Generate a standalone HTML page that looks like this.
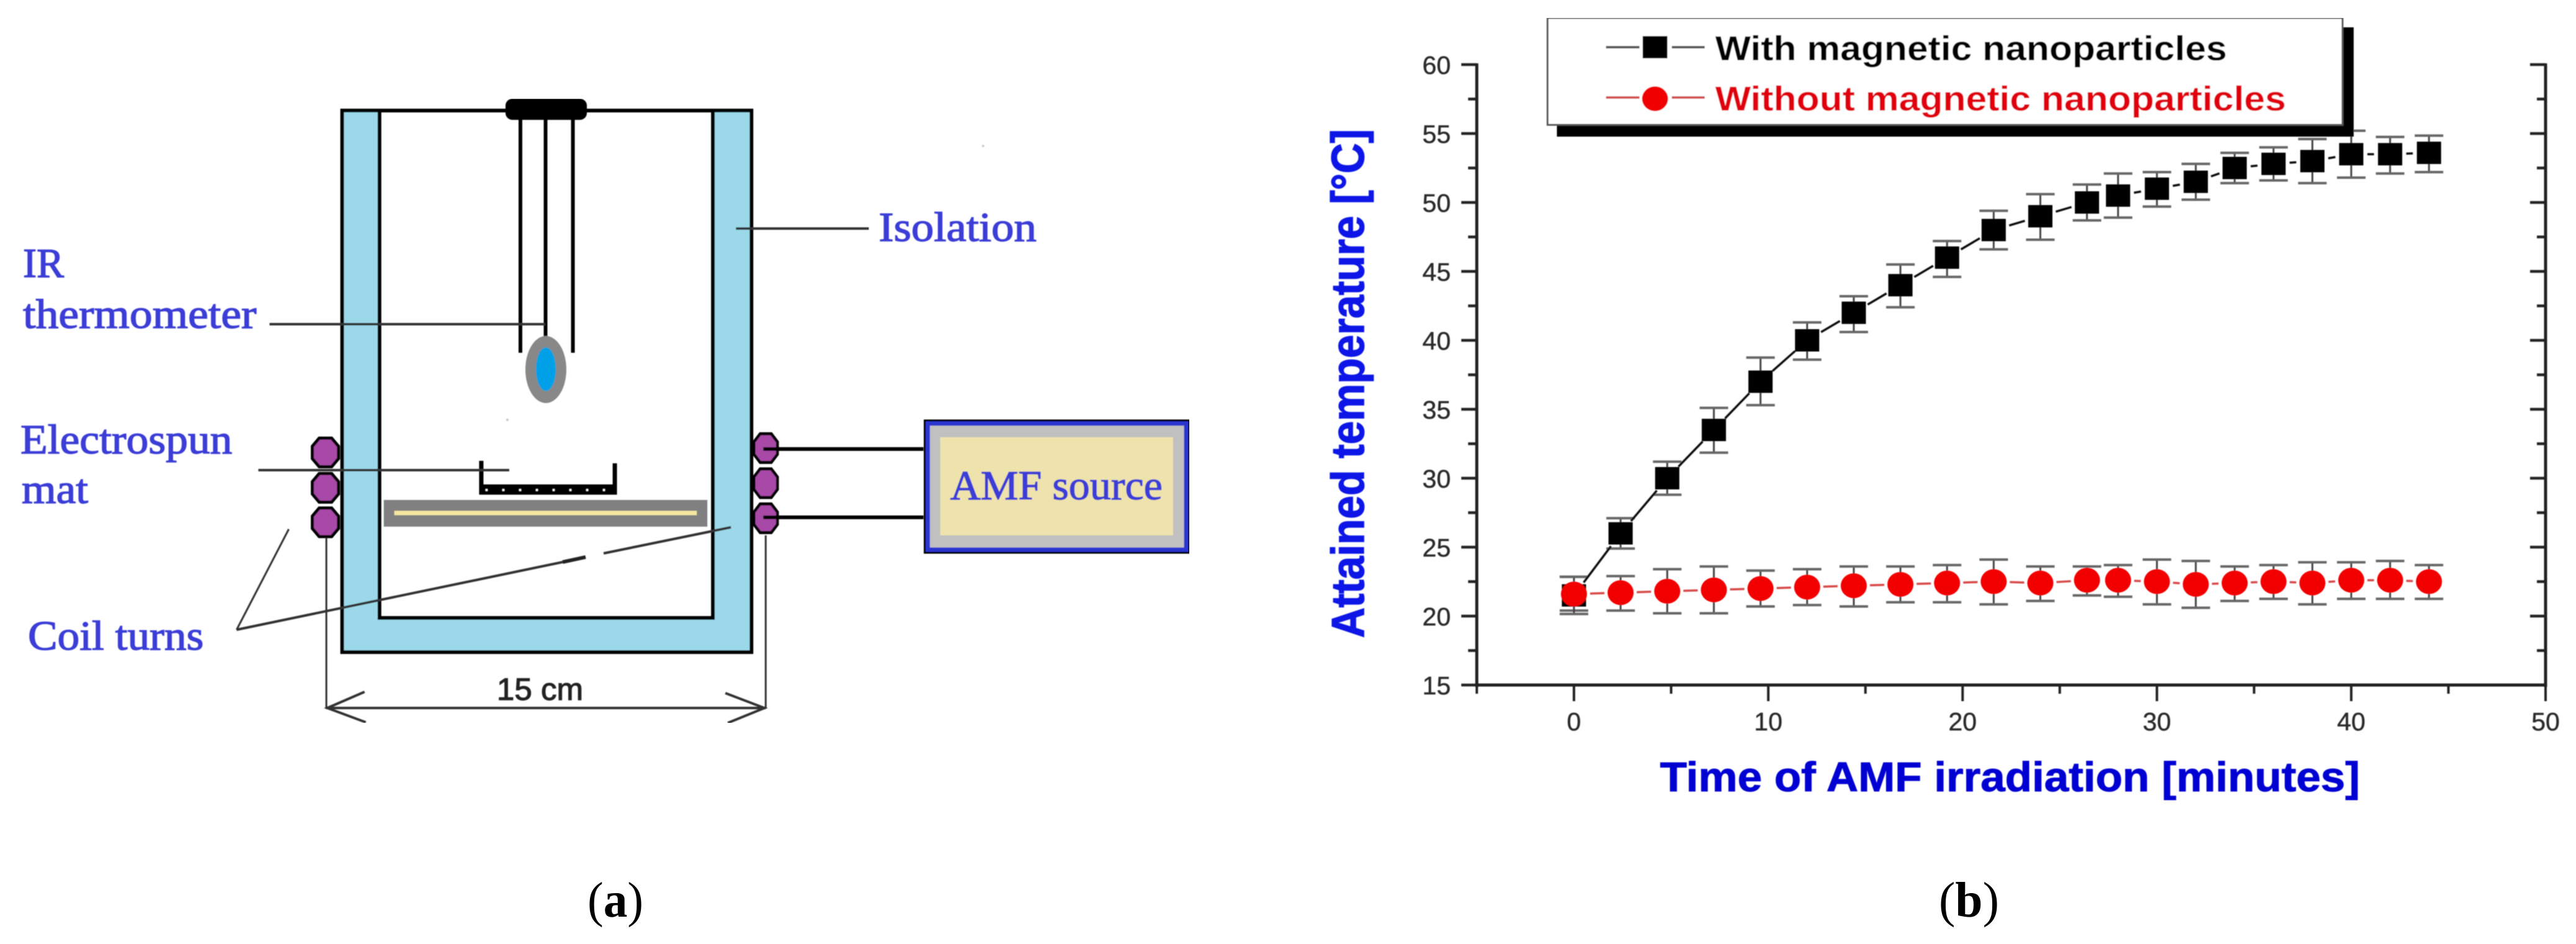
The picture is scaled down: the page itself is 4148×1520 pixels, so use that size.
<!DOCTYPE html>
<html lang="en">
<head>
<meta charset="utf-8">
<title>AMF heating setup and temperature curve</title>
<style>
html,body{margin:0;padding:0;background:#fff;width:4148px;height:1520px;overflow:hidden}
svg{display:block}
.lbl{font-family:"Liberation Serif",serif;font-size:67px;fill:#3a3cd6;stroke:#3a3cd6;stroke-width:1.4px}
.sans{font-family:"Liberation Sans",sans-serif}
.tick{font-family:"Liberation Sans",sans-serif;font-size:41px;fill:#2a2a2a;stroke:#2a2a2a;stroke-width:.5px}
</style>
</head>
<body>
<svg id="figure" xmlns="http://www.w3.org/2000/svg" width="4148" height="1520" viewBox="0 0 4148 1520">
  <defs><filter id="soft" x="0" y="0" width="100%" height="100%"><feGaussianBlur stdDeviation="0.9"/></filter></defs>
  <rect width="4148" height="1520" fill="#fff"/>

  <g id="panel-a" filter="url(#soft)">
    <path d="M551 178H611V995H1148V178H1210V1050H551Z" fill="#9bd9ea" stroke="#000" stroke-width="6"/>
    <line x1="548" y1="178" x2="1213" y2="178" stroke="#000" stroke-width="6"/>
    <line x1="838" y1="190" x2="838" y2="568" stroke="#000" stroke-width="6"/>
    <line x1="878.5" y1="190" x2="878.5" y2="545" stroke="#000" stroke-width="6"/>
    <line x1="922.5" y1="190" x2="922.5" y2="568" stroke="#000" stroke-width="6"/>
    <rect x="814" y="159" width="131" height="34" rx="11" fill="#000"/>
    <ellipse cx="879" cy="595" rx="33" ry="54" fill="#888"/>
    <ellipse cx="879" cy="594.5" rx="16" ry="35" fill="#00a0e8"/>
    <circle cx="1583" cy="235" r="2" fill="#d8c8c8"/>
    <circle cx="817" cy="676" r="2" fill="#c8c8c8"/>

    <rect x="618" y="805" width="521" height="43" fill="#808080"/>
    <line x1="635" y1="826" x2="1122" y2="826" stroke="#f5e6a0" stroke-width="7"/>
    <path d="M775 742V793H990V746" fill="none" stroke="#000" stroke-width="7"/>
    <rect x="775" y="780" width="218" height="16" rx="2" fill="#000"/>
    <line x1="782" y1="789" x2="985" y2="789" stroke="#fff" stroke-width="3" stroke-dasharray="3 24"/>

    <polygon transform="translate(524 728.5)" points="-10,-23 10,-23 21,-10 21,10 10,23 -10,23 -21,10 -21,-10" fill="#a848a8" stroke="#000" stroke-width="5"/>
    <polygon transform="translate(524 785.5)" points="-10,-23 10,-23 21,-10 21,10 10,23 -10,23 -21,10 -21,-10" fill="#a848a8" stroke="#000" stroke-width="5"/>
    <polygon transform="translate(524 841)" points="-10,-23 10,-23 21,-10 21,10 10,23 -10,23 -21,10 -21,-10" fill="#a848a8" stroke="#000" stroke-width="5"/>
    <polygon transform="translate(1233 721.5) scale(.9 1)" points="-10,-23 10,-23 21,-10 21,10 10,23 -10,23 -21,10 -21,-10" fill="#a848a8" stroke="#000" stroke-width="5"/>
    <polygon transform="translate(1233 778) scale(.9 1)" points="-10,-23 10,-23 21,-10 21,10 10,23 -10,23 -21,10 -21,-10" fill="#a848a8" stroke="#000" stroke-width="5"/>
    <polygon transform="translate(1233 834.5) scale(.9 1)" points="-10,-23 10,-23 21,-10 21,10 10,23 -10,23 -21,10 -21,-10" fill="#a848a8" stroke="#000" stroke-width="5"/>
    <line x1="1229" y1="723" x2="1487" y2="723" stroke="#000" stroke-width="6"/>
    <line x1="1229" y1="833" x2="1487" y2="833" stroke="#000" stroke-width="6"/>

    <rect x="1489" y="677" width="426" height="213" fill="#c0c0c0" stroke="#000" stroke-width="3"/>
    <rect x="1494" y="682" width="416" height="203" fill="none" stroke="#2a34d0" stroke-width="7"/>
    <rect x="1514" y="704" width="375" height="158" fill="#efe3ad"/>
    <text class="lbl" x="1530" y="804" textLength="342" lengthAdjust="spacingAndGlyphs">AMF source</text>

    <line x1="1185" y1="368" x2="1399" y2="368" stroke="#333" stroke-width="4"/>
    <line x1="434" y1="522" x2="878" y2="522" stroke="#333" stroke-width="4"/>
    <line x1="416" y1="757" x2="820" y2="757" stroke="#333" stroke-width="4"/>
    <line x1="465" y1="852" x2="381" y2="1014" stroke="#333" stroke-width="3"/>
    <line x1="381" y1="1014" x2="906" y2="905" stroke="#333" stroke-width="4"/>
    <line x1="906" y1="905" x2="943" y2="897" stroke="#222" stroke-width="6"/>
    <line x1="972" y1="891" x2="1177" y2="849" stroke="#333" stroke-width="4"/>

    <line x1="525.5" y1="866" x2="525.5" y2="1141" stroke="#333" stroke-width="3"/>
    <line x1="1233" y1="862" x2="1233" y2="1141" stroke="#333" stroke-width="3"/>
    <line x1="525" y1="1140" x2="1233" y2="1140" stroke="#333" stroke-width="4"/>
    <path d="M587 1114L527 1140L589 1163" fill="none" stroke="#333" stroke-width="4"/>
    <path d="M1168 1116L1231 1140L1172 1164" fill="none" stroke="#333" stroke-width="4"/>

    <text class="lbl" x="1415" y="388" textLength="254" lengthAdjust="spacingAndGlyphs">Isolation</text>
    <text class="lbl" x="37" y="446" textLength="66" lengthAdjust="spacingAndGlyphs">IR</text>
    <text class="lbl" x="37" y="528" textLength="376" lengthAdjust="spacingAndGlyphs">thermometer</text>
    <text class="lbl" x="33" y="730" textLength="341" lengthAdjust="spacingAndGlyphs">Electrospun</text>
    <text class="lbl" x="35" y="810" textLength="107" lengthAdjust="spacingAndGlyphs">mat</text>
    <text class="lbl" x="45" y="1046" textLength="283" lengthAdjust="spacingAndGlyphs">Coil turns</text>
    <text class="sans" x="800" y="1127" font-size="50" fill="#222" stroke="#222" stroke-width="1.2" textLength="139" lengthAdjust="spacingAndGlyphs">15 cm</text>
  </g>

  <text x="946" y="1476" font-family="'Liberation Serif',serif" font-size="80" fill="#000" textLength="90" lengthAdjust="spacingAndGlyphs">(<tspan font-weight="bold">a</tspan>)</text>
  <text x="3122" y="1476" font-family="'Liberation Serif',serif" font-size="80" fill="#000" textLength="97" lengthAdjust="spacingAndGlyphs">(<tspan font-weight="bold">b</tspan>)</text>

  <g id="chart" filter="url(#soft)">
    <g id="error-bars"></g>
    <g id="lines"></g>
    <g id="markers"></g>
    <g id="axes"></g>
    <text x="2673" y="1274" font-family="'Liberation Sans',sans-serif" font-weight="bold" font-size="67" fill="#0000d2" stroke="#0000d2" stroke-width="1" textLength="1127" lengthAdjust="spacingAndGlyphs">Time of AMF irradiation [minutes]</text>
    <text transform="translate(2196 1027) rotate(-90)" font-family="'Liberation Sans',sans-serif" font-weight="bold" font-size="74" fill="#0a18e6" stroke="#0a18e6" stroke-width="1.5" textLength="819" lengthAdjust="spacingAndGlyphs">Attained temperature [°C]</text>

    <g>
      <rect x="2507" y="44" width="1283" height="176" fill="#000"/>
      <rect x="2492" y="29" width="1280" height="172" fill="#fff" stroke="#555" stroke-width="3"/>
      <g>
        <line x1="2586" y1="76" x2="2640" y2="76" stroke="#555" stroke-width="4"/>
        <line x1="2692" y1="76" x2="2745" y2="76" stroke="#555" stroke-width="4"/>
        <rect x="2645" y="58" width="40" height="36" fill="#000"/>
        <text class="sans" x="2762" y="97" font-size="56" font-weight="bold" fill="#000" textLength="824" lengthAdjust="spacingAndGlyphs">With magnetic nanoparticles</text>
      </g>
      <g>
        <line x1="2586" y1="157" x2="2640" y2="157" stroke="#d05050" stroke-width="4"/>
        <line x1="2692" y1="157" x2="2745" y2="157" stroke="#d05050" stroke-width="4"/>
        <ellipse cx="2665" cy="159" rx="21" ry="20" fill="#f00000"/>
        <text class="sans" x="2762" y="178" font-size="56" font-weight="bold" fill="#e00010" textLength="919" lengthAdjust="spacingAndGlyphs">Without magnetic nanoparticles</text>
      </g>
    </g>
  </g>
</svg>

<script>
// ---- chart data ----
const timeMinutes = [0, 2.4, 4.8, 7.2, 9.6, 12, 14.4, 16.8, 19.2, 21.6, 24, 26.4, 28, 30, 32, 34, 36, 38, 40, 42, 44];
const withNanoparticles = [21.5, 26, 30, 33.5, 37, 40, 42, 44, 46, 48, 49, 50, 50.5, 51, 51.5, 52.5, 52.8, 53, 53.5, 53.5, 53.6];
const withHigh = [22.85, 27.1, 31.2, 35.1, 38.75, 41.3, 43.2, 45.5, 47.2, 49.4, 50.6, 51.3, 52.1, 52.2, 52.8, 53.6, 54, 54.6, 55.2, 54.75, 54.85];
const withLow = [20.4, 24.9, 28.8, 31.85, 35.3, 38.6, 40.6, 42.4, 44.6, 46.6, 47.3, 48.7, 48.9, 49.7, 50.2, 51.4, 51.6, 51.4, 51.8, 52.1, 52.2];
const withoutNanoparticles = [21.6, 21.7, 21.8, 21.9, 22, 22.1, 22.2, 22.3, 22.4, 22.5, 22.4, 22.6, 22.6, 22.5, 22.3, 22.4, 22.5, 22.4, 22.6, 22.6, 22.5];
const withoutHigh = [22.85, 22.9, 23.4, 23.6, 23.3, 23.4, 23.6, 23.6, 23.7, 24.1, 23.6, 23.6, 23.7, 24.1, 24, 23.6, 23.7, 23.9, 23.9, 24, 23.7];
const withoutLow = [20.15, 20.4, 20.2, 20.2, 20.7, 20.8, 20.7, 21, 21, 20.85, 21.1, 21.5, 21.4, 20.85, 20.6, 21.1, 21.25, 20.85, 21.25, 21.25, 21.25];
const xMajorTicks = [0, 10, 20, 30, 40, 50];
const xMinorTicks = [-5, 5, 15, 25, 35, 45];
const yMajorTicks = [15, 20, 25, 30, 35, 40, 45, 50, 55, 60];
const yMinorTicks = [17.5, 22.5, 27.5, 32.5, 37.5, 42.5, 47.5, 52.5, 57.5];

// ---- axis functions ----
const plot = { left: 2378, right: 4099, top: 104, bottom: 1103 };
const xDomain = [-5, 50];
const yDomain = [15, 60];
function xPos(v) { return plot.left + (v - xDomain[0]) * (plot.right - plot.left) / (xDomain[1] - xDomain[0]); }
function yPos(v) { return plot.bottom - (v - yDomain[0]) * (plot.bottom - plot.top) / (yDomain[1] - yDomain[0]); }

const NS = 'http://www.w3.org/2000/svg';
function make(tag, attrs, parent) {
  const el = document.createElementNS(NS, tag);
  for (const k in attrs) el.setAttribute(k, attrs[k]);
  parent.appendChild(el);
  return el;
}
const errG = document.getElementById('error-bars');
const lineG = document.getElementById('lines');
const markG = document.getElementById('markers');
const axisG = document.getElementById('axes');

// ---- error bars ----
function drawErrors(high, low, key) {
  timeMinutes.forEach(function (t, i) {
    const x = xPos(t), yH = yPos(high[i]), yL = yPos(low[i]);
    const stem = make('line', { x1: x, x2: x, y1: yH, y2: yL, stroke: '#444', 'stroke-width': 3 }, errG);
    
    
    const capTop = make('line', { x1: x - 23, x2: x + 23, y1: yH, y2: yH, stroke: '#666', 'stroke-width': 4 }, errG);
    
    
    const capBottom = make('line', { x1: x - 23, x2: x + 23, y1: yL, y2: yL, stroke: '#666', 'stroke-width': 4 }, errG);
    
    
  });
}
drawErrors(withHigh, withLow, 'with-nanoparticles');
drawErrors(withoutHigh, withoutLow, 'without-nanoparticles');

// ---- connecting lines, leaving a small gap around each marker ----
function drawLine(values, color, key) {
  const gap = 26;
  for (let i = 0; i + 1 < values.length; i++) {
    const x1 = xPos(timeMinutes[i]), y1 = yPos(values[i]);
    const x2 = xPos(timeMinutes[i + 1]), y2 = yPos(values[i + 1]);
    const len = Math.hypot(x2 - x1, y2 - y1);
    if (len <= gap * 2) continue;
    const ux = (x2 - x1) / len, uy = (y2 - y1) / len;
    const seg = make('line', {
      x1: x1 + ux * gap, y1: y1 + uy * gap, x2: x2 - ux * gap, y2: y2 - uy * gap,
      stroke: color, 'stroke-width': 3.5
    }, lineG);
    
    
  }
}
drawLine(withNanoparticles, '#111', 'with-nanoparticles');
drawLine(withoutNanoparticles, '#d84848', 'without-nanoparticles');

// ---- markers ----
withNanoparticles.forEach(function (v, i) {
  const sq = make('rect', { x: xPos(timeMinutes[i]) - 19.5, y: yPos(v) - 18, width: 39, height: 36, fill: '#000' }, markG);
  
  
});
withoutNanoparticles.forEach(function (v, i) {
  const c = make('ellipse', { cx: xPos(timeMinutes[i]), cy: yPos(v), rx: 21, ry: 20, fill: '#f20000' }, markG);
  
  
});

// ---- axes ----
const yAxisLine = make('line', { x1: plot.left, x2: plot.left, y1: plot.top - 2, y2: plot.bottom + 3, stroke: '#222', 'stroke-width': 5 }, axisG);


const rightAxisLine = make('line', { x1: plot.right, x2: plot.right, y1: plot.top - 2, y2: plot.bottom + 3, stroke: '#222', 'stroke-width': 5 }, axisG);


const xAxisLine = make('line', { x1: plot.left - 2, x2: plot.right + 2, y1: plot.bottom, y2: plot.bottom, stroke: '#222', 'stroke-width': 5 }, axisG);



function yTick(v, len) {
  const left = make('line', { x1: plot.left - len, x2: plot.left, y1: yPos(v), y2: yPos(v), stroke: '#222', 'stroke-width': 4.5 }, axisG);
  
  
  const right = make('line', { x1: plot.right - len, x2: plot.right, y1: yPos(v), y2: yPos(v), stroke: '#222', 'stroke-width': 4.5 }, axisG);
  
  
}
function xTick(v, len) {
  const t = make('line', { x1: xPos(v), x2: xPos(v), y1: plot.bottom, y2: plot.bottom + len, stroke: '#222', 'stroke-width': 4 }, axisG);
  
  
}
yMajorTicks.forEach(function (v) {
  yTick(v, 25);
  const label = make('text', { x: 2336, y: yPos(v) + 15, 'text-anchor': 'end', class: 'tick' }, axisG);
  
  
  label.textContent = String(v);
});
yMinorTicks.forEach(function (v) { yTick(v, 14); });
xMajorTicks.forEach(function (v) {
  xTick(v, 26);
  const label = make('text', { x: xPos(v), y: 1176, 'text-anchor': 'middle', class: 'tick' }, axisG);
  
  
  label.textContent = String(v);
});
xMinorTicks.forEach(function (v) { xTick(v, 14); });
</script>
</body>
</html>
